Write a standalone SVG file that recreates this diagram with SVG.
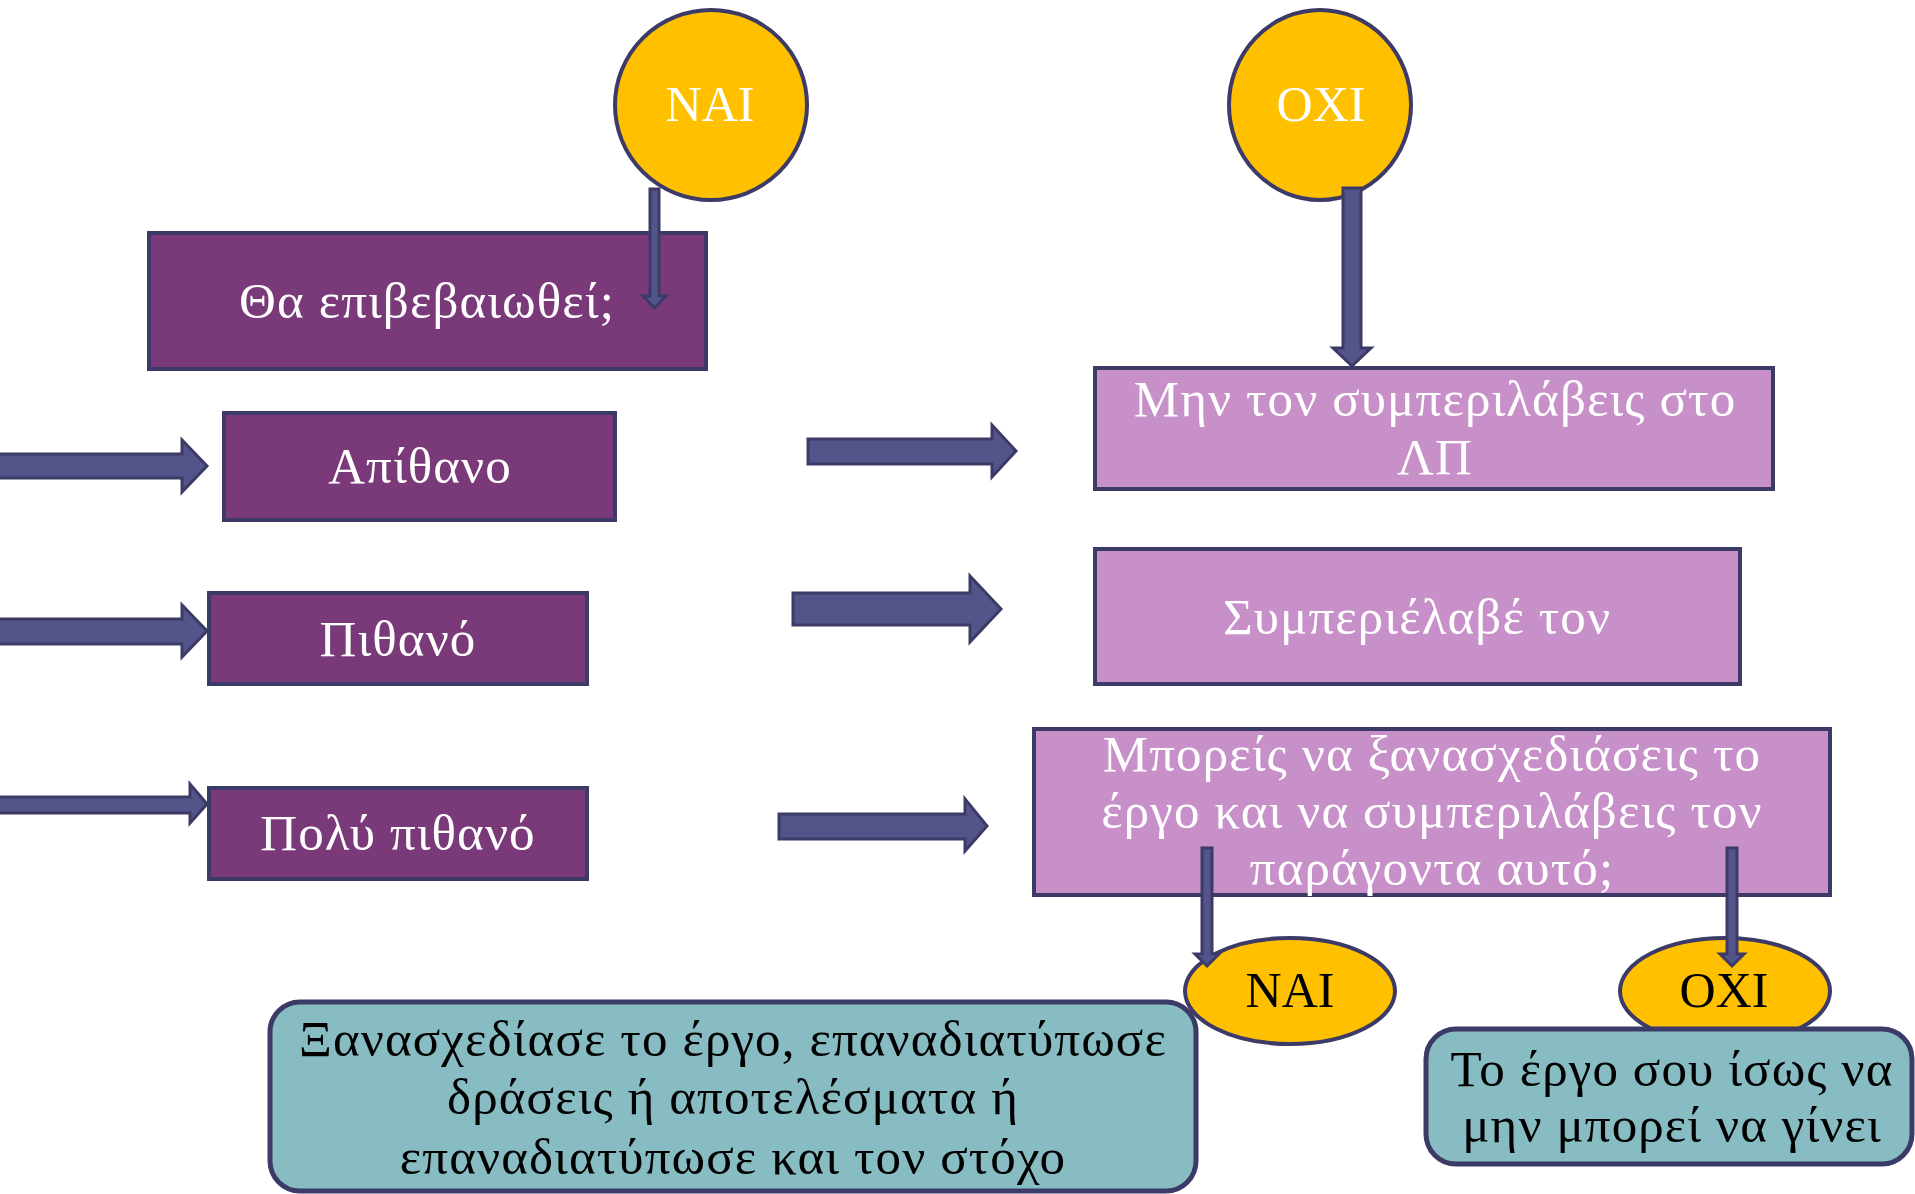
<svg xmlns="http://www.w3.org/2000/svg" width="1915" height="1194" viewBox="0 0 1915 1194">
<style>
.dark{fill:#7A3A7A;stroke:#3C3A66;stroke-width:4}
.light{fill:#C890C8;stroke:#3C3A66;stroke-width:4}
.yel{fill:#FFC000;stroke:#3C3A66;stroke-width:4}
.teal{fill:#86BCC2;stroke:#3C3A66;stroke-width:5}
.arr{fill:#53548A;stroke:#3C3A66;stroke-width:3;stroke-linejoin:miter}
text{font-family:"Liberation Serif","Times New Roman",serif;font-size:51px;letter-spacing:1.1px;text-anchor:middle}
text.lbl{font-size:50px;letter-spacing:0}
.w{fill:#FFFFFF}
.k{fill:#000000}
</style>
<rect width="1915" height="1194" fill="#FFFFFF"/>
<g id="node-nai-top">
<ellipse class="yel" cx="711" cy="105" rx="96" ry="95"/>
<text class="w lbl" x="710" y="121">NAI</text>
</g>
<g id="node-oxi-top">
<ellipse class="yel" cx="1320" cy="105" rx="91" ry="95"/>
<text class="w lbl" x="1321" y="121">OXI</text>
</g>
<g id="node-confirm">
<rect class="dark" x="149" y="233" width="557" height="136"/>
<text class="w" x="427" y="318">Θα επιβεβαιωθεί;</text>
</g>
<g id="node-unlikely">
<rect class="dark" x="224" y="413" width="391" height="107"/>
<text class="w" x="420" y="483">Απίθανο</text>
</g>
<g id="node-likely">
<rect class="dark" x="209" y="593" width="378" height="91"/>
<text class="w" x="398" y="656">Πιθανό</text>
</g>
<g id="node-very-likely">
<rect class="dark" x="209" y="788" width="378" height="91"/>
<text class="w" x="398" y="850">Πολύ πιθανό</text>
</g>
<g id="node-exclude">
<rect class="light" x="1095" y="368" width="678" height="121"/>
<text class="w" x="1435" y="416">Μην τον συμπεριλάβεις στο</text>
<text class="w" x="1435" y="474">ΛΠ</text>
</g>
<g id="node-include">
<rect class="light" x="1095" y="549" width="645" height="135"/>
<text class="w" x="1417" y="634">Συμπεριέλαβέ τον</text>
</g>
<g id="node-redesign-q">
<rect class="light" x="1034" y="729" width="796" height="166"/>
<text class="w" x="1432" y="771">Μπορείς να ξανασχεδιάσεις το</text>
<text class="w" x="1432" y="828">έργο και να συμπεριλάβεις τον</text>
<text class="w" x="1432" y="885">παράγοντα αυτό;</text>
</g>
<g id="node-redesign">
<rect class="teal" x="270" y="1002" width="926" height="189" rx="30" ry="30"/>
<text class="k" x="733" y="1056">Ξανασχεδίασε το έργο, επαναδιατύπωσε</text>
<text class="k" x="733" y="1114">δράσεις ή αποτελέσματα ή</text>
<text class="k" x="733" y="1174">επαναδιατύπωσε και τον στόχο</text>
</g>
<g id="node-nai-small">
<ellipse class="yel" cx="1290" cy="991" rx="105" ry="53"/>
<text class="k lbl" x="1290" y="1007">NAI</text>
</g>
<g id="node-oxi-small">
<ellipse class="yel" cx="1725" cy="991" rx="105" ry="53"/>
<text class="k lbl" x="1724" y="1007">OXI</text>
</g>
<g id="node-impossible">
<rect class="teal" x="1426" y="1029" width="486" height="135" rx="30" ry="30"/>
<text class="k" x="1672" y="1086">Το έργο σου ίσως να</text>
<text class="k" x="1672" y="1142">μην μπορεί να γίνει</text>
</g>
<g id="connectors">
<polygon class="arr" points="-3,454 182,454 182,440 207,466 182,492 182,478 -3,478"/>
<polygon class="arr" points="808,439 992,439 992,425 1016,451 992,477 992,464 808,464"/>
<polygon class="arr" points="-3,619 182,619 182,605 207,631 182,657 182,644 -3,644"/>
<polygon class="arr" points="793,593 970,593 970,576 1001,609 970,642 970,625 793,625"/>
<polygon class="arr" points="-3,797 190,797 190,784 207,804 190,823 190,813 -3,813"/>
<polygon class="arr" points="779,814 965,814 965,799 987,826 965,851 965,839 779,839"/>
<polygon class="arr" points="650,189 659,189 659,296 666,296 654.5,308 643,296 650,296"/>
<polygon class="arr" points="1343,188 1361,188 1361,348 1371,348 1352,366 1333,348 1343,348"/>
<polygon class="arr" points="1202,848 1212,848 1212,954 1219,954 1207,966 1195,954 1202,954"/>
<polygon class="arr" points="1727,848 1737,848 1737,954 1744,954 1732,966 1720,954 1727,954"/>
</g>
</svg>
